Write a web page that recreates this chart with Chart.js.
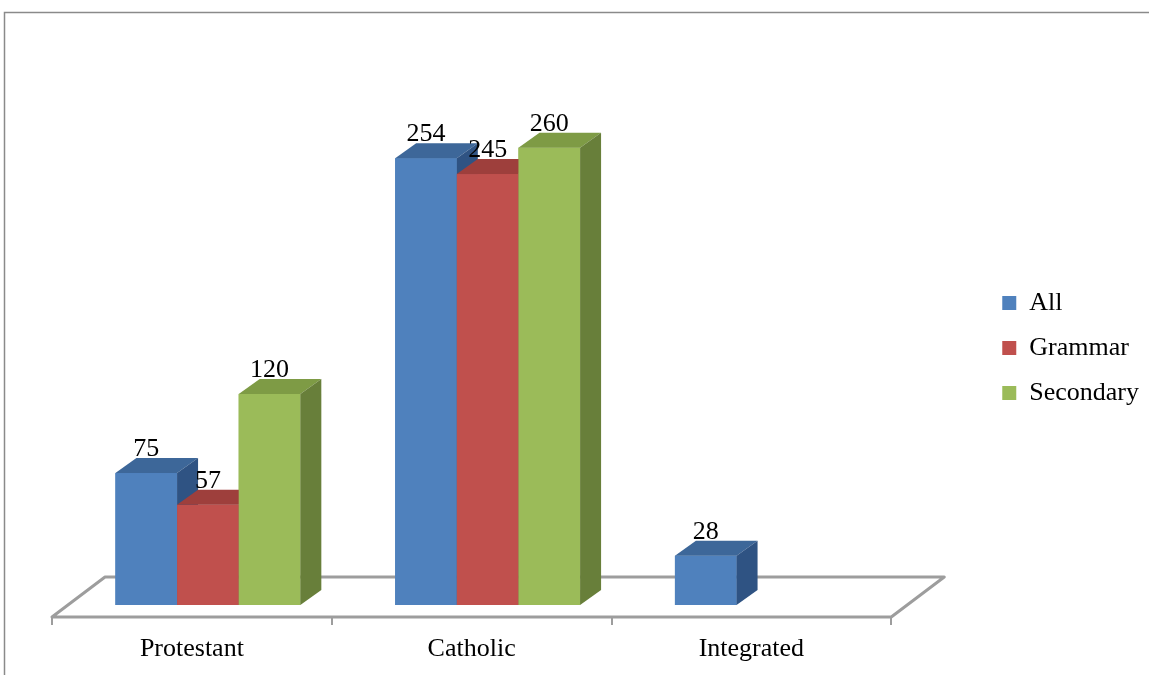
<!DOCTYPE html>
<html>
<head>
<meta charset="utf-8">
<script src="https://cdn.jsdelivr.net/npm/chart.js@4/dist/chart.umd.min.js"></script>
<style>
  body { margin: 0; background: #fff; }
  #wrap { width: 1149px; height: 675px; }
</style>
</head>
<body>
<div id="wrap"><canvas id="schoolChart" width="1149" height="675"></canvas></div>
<script>
// chart data
const categories = ['Protestant', 'Catholic', 'Integrated'];
const seriesNames = ['All', 'Grammar', 'Secondary'];
const allValues = [75, 254, 28];
const grammarValues = [57, 245, null];
const secondaryValues = [120, 260, null];

const frontColors = ['#4F81BD', '#C0504D', '#9BBB59'];
const topColors = ['#3D6799', '#9E3F3C', '#7E9B45'];
const sideColors = ['#2F5383', '#853532', '#687F3A'];

const DX = 21, DY = 15;   // depth of the fake 3d
const SHIFT = -16;        // floor / labels sit a bit left of the bars

// outer frame of the picture
const framePlugin = {
    id: 'frame',
    beforeDraw(chart) {
        const ctx = chart.ctx;
        ctx.save();
        ctx.strokeStyle = '#8a8a8a';
        ctx.lineWidth = 1.5;
        ctx.beginPath();
        ctx.moveTo(4.5, chart.height);
        ctx.lineTo(4.5, 12.5);
        ctx.lineTo(chart.width, 12.5);
        ctx.stroke();
        ctx.restore();
    }
};

// floor parallelogram and tick marks
const floorPlugin = {
    id: 'floor',
    beforeDatasetsDraw(chart) {
        const ctx = chart.ctx;
        const area = chart.chartArea;
        const base = chart.scales.y.getPixelForValue(0);
        const l = area.left + SHIFT, r = area.right + SHIFT;
        ctx.save();
        ctx.strokeStyle = '#9d9d9d';
        ctx.lineWidth = 3;
        ctx.lineJoin = 'round';
        ctx.beginPath();
        ctx.moveTo(l, base + 12);
        ctx.lineTo(r, base + 12);
        ctx.lineTo(r + 53, base - 28);
        ctx.lineTo(l + 53, base - 28);
        ctx.closePath();
        ctx.stroke();
        ctx.lineWidth = 2;
        const step = (area.right - area.left) / categories.length;
        for (let i = 0; i <= categories.length; i++) {
            const tx = Math.round(l + i * step);
            ctx.beginPath();
            ctx.moveTo(tx, base + 12);
            ctx.lineTo(tx, base + 20);
            ctx.stroke();
        }
        ctx.restore();
    }
};

// redraw each bar as a box (front, top, side) and put the value over it
const boxPlugin = {
    id: 'boxes',
    afterDatasetsDraw(chart) {
        const ctx = chart.ctx;
        ctx.save();
        for (let c = 0; c < categories.length; c++) {
            chart.data.datasets.forEach((ds, d) => {
                const bar = chart.getDatasetMeta(d).data[c];
                if (!bar || ds.data[c] == null) return;
                const p = bar.getProps(['x', 'y', 'base', 'width'], true);
                const x0 = p.x - p.width / 2, x1 = p.x + p.width / 2;
                ctx.fillStyle = frontColors[d];
                ctx.fillRect(x0, p.y, p.width, p.base - p.y);
                ctx.fillStyle = topColors[d];
                ctx.beginPath();
                ctx.moveTo(x0, p.y);
                ctx.lineTo(x0 + DX, p.y - DY);
                ctx.lineTo(x1 + DX, p.y - DY);
                ctx.lineTo(x1, p.y);
                ctx.closePath();
                ctx.fill();
                ctx.fillStyle = sideColors[d];
                ctx.beginPath();
                ctx.moveTo(x1, p.y);
                ctx.lineTo(x1 + DX, p.y - DY);
                ctx.lineTo(x1 + DX, p.base - DY);
                ctx.lineTo(x1, p.base);
                ctx.closePath();
                ctx.fill();
            });
        }
        ctx.fillStyle = '#000';
        ctx.font = '26px "Liberation Serif", "Times New Roman", serif';
        ctx.textAlign = 'center';
        ctx.textBaseline = 'alphabetic';
        chart.data.datasets.forEach((ds, d) => {
            chart.getDatasetMeta(d).data.forEach((bar, i) => {
                if (ds.data[i] == null) return;
                ctx.fillText(ds.data[i], bar.x, bar.y - DY - 2);
            });
        });
        ctx.restore();
    }
};

const ctx = document.getElementById('schoolChart').getContext('2d');
new Chart(ctx, {
    type: 'bar',
    data: {
        labels: categories,
        datasets: [
            { label: seriesNames[0], data: allValues, backgroundColor: frontColors[0] },
            { label: seriesNames[1], data: grammarValues, backgroundColor: frontColors[1] },
            { label: seriesNames[2], data: secondaryValues, backgroundColor: frontColors[2] }
        ]
    },
    options: {
        responsive: false,
        animation: false,
        datasets: {
            bar: { categoryPercentage: 0.661, barPercentage: 1.0 }
        },
        layout: { padding: { left: 68, right: 0, top: 21, bottom: 0 } },
        scales: {
            x: {
                grid: { display: false, drawTicks: false },
                border: { display: false },
                ticks: {
                    color: '#000',
                    labelOffset: SHIFT,
                    padding: 29,
                    font: { family: '"Liberation Serif", "Times New Roman", serif', size: 26 }
                },
                afterFit: (scale) => { scale.height = 70; }
            },
            y: {
                display: false,
                min: 0,
                max: 332
            },
            spacer: {
                type: 'linear',
                position: 'right',
                display: true,
                grid: { display: false, drawTicks: false },
                border: { display: false },
                ticks: { display: false },
                afterFit: (scale) => { scale.width = 76; }
            }
        },
        plugins: {
            legend: {
                position: 'right',
                labels: {
                    color: '#000',
                    boxWidth: 14,
                    boxHeight: 14,
                    padding: 19,
                    font: { family: '"Liberation Serif", "Times New Roman", serif', size: 26 }
                }
            },
            tooltip: { enabled: false }
        }
    },
    plugins: [framePlugin, floorPlugin, boxPlugin]
});
</script>
</body>
</html>
